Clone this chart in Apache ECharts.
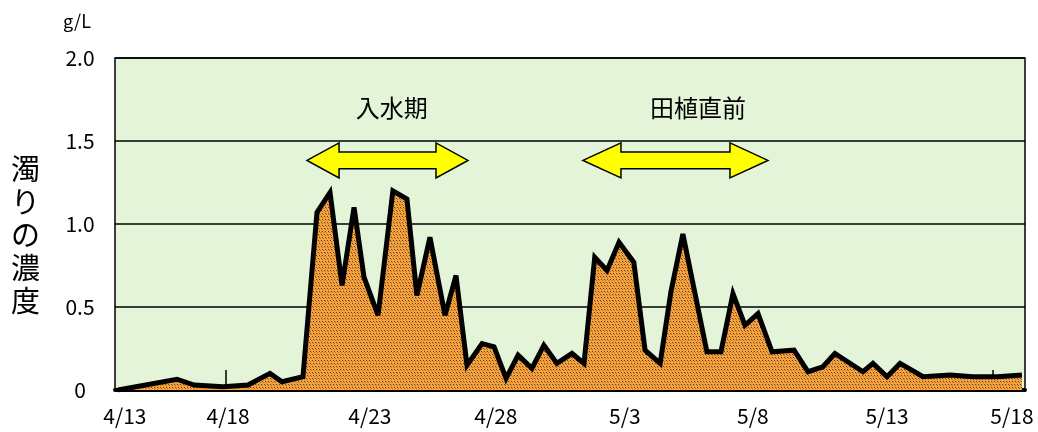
<!DOCTYPE html>
<html><head><meta charset="utf-8">
<script src="https://cdn.jsdelivr.net/npm/echarts@6/dist/echarts.min.js"></script>
<style>html,body{margin:0;padding:0;background:#fff}#c{width:1038px;height:432px}</style>
</head><body><div id="c"></div>
<script>
// ---- data ----
// x: days since 4/13, y: turbidity (g/L)
const days = [0.77,3.08,3.75,4.88,5.86,6.72,7.19,8.01,8.56,9.07,9.54,10.01,10.40,10.95,11.53,12.08,12.47,12.98,13.57,14.00,14.43,15.02,15.49,15.96,16.43,16.97,17.44,17.95,18.54,19.01,19.43,19.91,20.38,20.96,21.40,21.99,22.41,22.88,23.82,24.37,24.84,25.31,25.82,26.37,27.23,27.78,28.36,28.83,29.93,30.32,30.87,31.38,32.28,33.34,34.24,35.18,36.15];
const values = [0.00,0.065,0.03,0.02,0.03,0.10,0.05,0.08,1.07,1.19,0.63,1.10,0.68,0.45,1.20,1.15,0.57,0.92,0.45,0.69,0.15,0.28,0.26,0.07,0.21,0.13,0.27,0.16,0.22,0.16,0.80,0.72,0.89,0.77,0.24,0.16,0.59,0.94,0.23,0.23,0.58,0.39,0.46,0.23,0.24,0.11,0.14,0.22,0.11,0.16,0.08,0.16,0.08,0.09,0.08,0.08,0.09];
const tickLabels = ['4/13','4/18','4/23','4/28','5/3','5/8','5/13','5/18'];
const tickDays = [5,10,15,20,25,30,35];
const periodLabels = ['入水期','田植直前'];
const periodFrom = [8.17,18.97];
const periodTo = [14.47,26.21];

// ---- layout ----
const labelDays = [1.04,5.08,10.63,15.56,20.61,25.62,30.87,35.76];
const arrowY = 1.383, textY = 1.70;
const textDays = [11.49,23.47];
const headLen = [32,38];

function makePattern(){
  const c=document.createElement('canvas'); c.width=6; c.height=6;
  const g=c.getContext('2d');
  g.fillStyle='#F7A23C'; g.fillRect(0,0,6,6);
  g.fillStyle='#5a4020';
  g.fillRect(0,0,1,1); g.fillRect(3,0,1,1);
  g.fillRect(1,3,1,1); g.fillRect(4,3,1,1);
  g.fillStyle='#b07030';
  g.fillRect(1,1,1,1); g.fillRect(4,1,1,1);
  g.fillRect(2,4,1,1); g.fillRect(5,4,1,1);
  return c;
}

const chart = echarts.init(document.getElementById('c'));
chart.setOption({
  animation:false,
  grid:{left:115,right:13,top:58,bottom:42,show:true,backgroundColor:'#E4F4D9',borderColor:'#000',borderWidth:1.5},
  xAxis:{
    type:'value',min:0.654,max:36.27,splitLine:{show:false},
    axisLine:{show:true,onZero:false,lineStyle:{color:'#000',width:4}},
    axisTick:{show:true,inside:true,length:20,customValues:tickDays,lineStyle:{color:'#000',width:1.5}},
    axisLabel:{
      customValues:labelDays,
      formatter:function(v){
        let best=0,bd=1e9;
        labelDays.forEach((d,i)=>{const e=Math.abs(d-v); if(e<bd){bd=e;best=i;}});
        return tickLabels[best];
      },
      color:'#000',fontSize:21,fontFamily:'"Noto Sans CJK JP"',margin:16
    }
  },
  yAxis:{
    type:'value',min:0,max:2,interval:0.5,
    axisLine:{show:false},axisTick:{show:false},
    splitLine:{show:true,lineStyle:{color:'#000',width:1.5}},
    axisLabel:{
      formatter:v=>v===0?'0':v.toFixed(1),
      color:'#000',fontSize:21,fontFamily:'"Noto Sans CJK JP"',align:'center',margin:35
    }
  },
  graphic:[
    {type:'text',left:63,top:12,style:{text:'g/L',fill:'#000',font:'18px "Noto Sans CJK JP"'}},
    {type:'text',left:11,top:152,style:{text:'濁\nり\nの\n濃\n度',fill:'#000',font:'29px "Noto Sans CJK JP"',lineHeight:33}}
  ],
  series:[
    {
      type:'line',
      data:days.map((d,i)=>[d,values[i]]),
      symbol:'none',
      lineStyle:{color:'#000',width:5,join:'miter',miterLimit:4},
      areaStyle:{color:{image:makePattern(),repeat:'repeat'},opacity:1,origin:'start'},
      z:3
    },
    {
      type:'custom',
      z:5,
      clip:false,
      data:periodLabels.map((t,i)=>[periodFrom[i],periodTo[i],arrowY,textDays[i],textY]),
      renderItem:function(params,api){
        const i=params.dataIndex;
        const p1=api.coord([api.value(0),api.value(2)]);
        const p2=api.coord([api.value(1),api.value(2)]);
        const t=api.coord([api.value(3),api.value(4)]);
        const hl=headLen[i], hh=17.5, sh=8.3;
        const y=p1[1], x1=p1[0], x2=p2[0];
        const pts=[[x1,y],[x1+hl,y-hh],[x1+hl,y-sh],[x2-hl,y-sh],[x2-hl,y-hh],[x2,y],[x2-hl,y+hh],[x2-hl,y+sh],[x1+hl,y+sh],[x1+hl,y+hh]];
        return {type:'group',children:[
          {type:'polygon',shape:{points:pts},style:{fill:'#FFFF00',stroke:'#000',lineWidth:1.5}},
          {type:'text',x:t[0],y:t[1],style:{text:periodLabels[i],fill:'#000',font:'24px "Noto Sans CJK JP"',align:'center',verticalAlign:'middle'}}
        ]};
      }
    }
  ]
});
</script>
</body></html>
